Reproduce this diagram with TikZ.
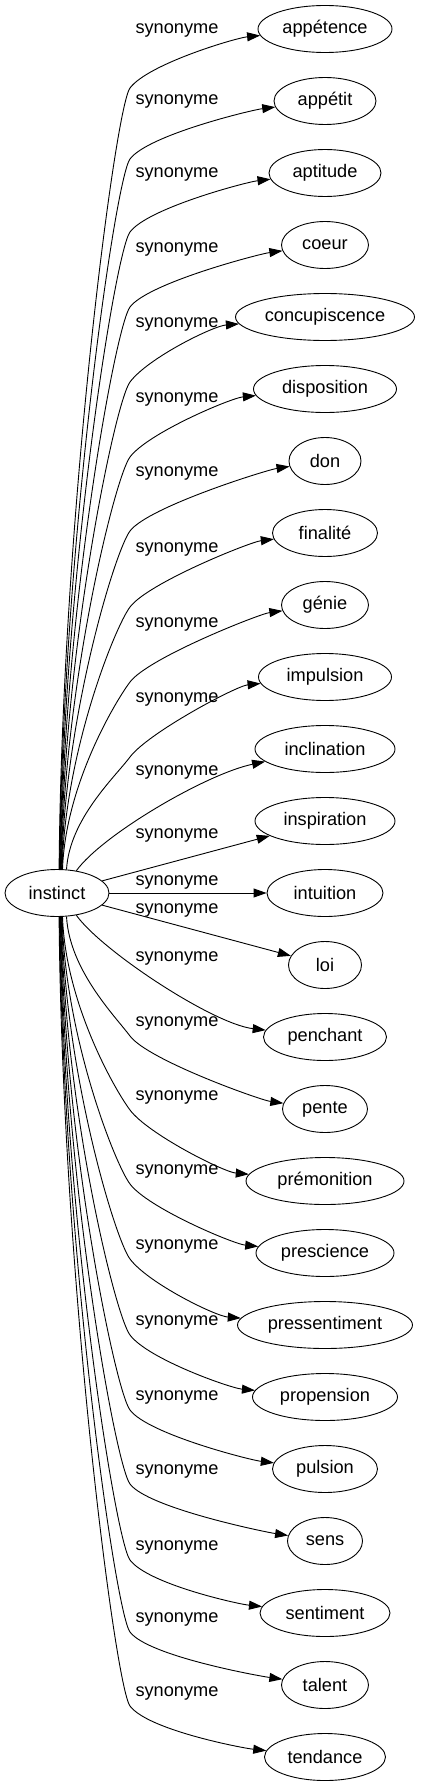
\documentclass[tikz,border=0pt]{standalone}
\usepackage{fontspec}
\setmainfont{Liberation Sans}
\usetikzlibrary{shapes.geometric,arrows.meta,calc}
\tikzset{
  tgt/.style={draw, ellipse, line width=0.9pt, inner sep=0pt, minimum height=47pt, font=\fontsize{18.2}{20}\selectfont},
  edge/.style={draw, line width=0.9pt, -{Triangle[length=13pt,width=9pt]}},
  lbl/.style={inner sep=0pt, font=\fontsize{18.2}{20}\selectfont}
}
\begin{document}
\begin{tikzpicture}[x=1pt,y=-1pt]
\useasboundingbox (0,0) rectangle (420,1787);
\node[tgt, minimum width=104pt] (instinct) at (57,893) {instinct};
\foreach \t/\w [count=\i from 0] in {appétence/134, appétit/102, aptitude/112, coeur/87, concupiscence/179, disposition/143, don/72, finalité/105, génie/87, impulsion/133, inclination/140, inspiration/140, intuition/116, loi/73, penchant/123, pente/85, prémonition/158, prescience/138, pressentiment/175, propension/145, pulsion/105, sens/75, sentiment/130, talent/87, tendance/121}{
  \node[tgt, minimum width=\w pt] (n\i) at (325,{29+72*\i}) {\t};
}
% upper edges
\foreach \i/\L/\sa in {0/30/85, 1/101/84, 2/174/83, 3/249/82, 4/324/81, 5/399/80, 6/473/79, 7/549/78, 8/624/77, 9/699/68}{
  \pgfmathsetmacro\ky{\L+58}
  \pgfmathsetmacro\dd{0.45*(869-\ky)}
  \draw[edge] (instinct.\sa) .. controls +(3,-\dd) and +(-15,20) .. (130,\ky) .. controls +(18,-24) and ($(n\i.west)+(-22,9)$) .. (n\i);
  \node[lbl] at (177,\L) {synonyme};
}
\draw[edge] (instinct.49) .. controls (102,835) and (206,774) .. (n10);
\node[lbl] at (177,772) {synonyme};
% lower edges
\foreach \i/\L/\sa in {15/1023/-68, 16/1097/-77, 17/1171/-78, 18/1246/-79, 19/1322/-80, 20/1397/-81, 21/1471/-82, 22/1547/-83, 23/1619/-84, 24/1693/-85}{
  \pgfmathsetmacro\ky{\L+13}
  \pgfmathsetmacro\dd{0.45*(\ky-917)}
  \draw[edge] (instinct.\sa) .. controls +(3,\dd) and +(-15,-20) .. (130,\ky) .. controls +(18,24) and ($(n\i.west)+(-22,-9)$) .. (n\i);
  \node[lbl] at (177,\L) {synonyme};
}
\draw[edge] (instinct.-49) .. controls (102,951) and (213,1024) .. (n14);
\node[lbl] at (177,958) {synonyme};
% middle edges
\draw[edge] (instinct) -- (n11);
\node[lbl] at (177,835) {synonyme};
\draw[edge] (instinct) -- (n12);
\node[lbl] at (177,882) {synonyme};
\draw[edge] (instinct) -- (n13);
\node[lbl] at (177,910) {synonyme};
\end{tikzpicture}
\end{document}
